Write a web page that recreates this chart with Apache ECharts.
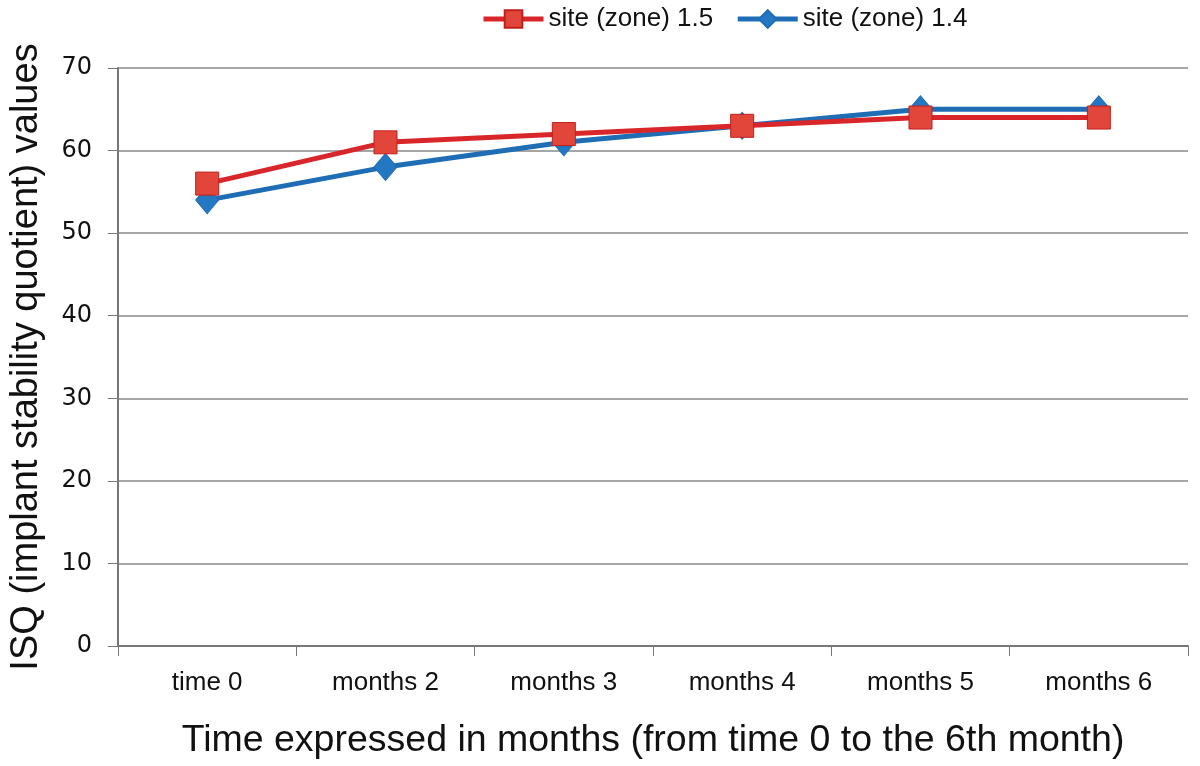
<!DOCTYPE html>
<html><head><meta charset="utf-8">
<script src="https://cdn.jsdelivr.net/npm/echarts@6/dist/echarts.min.js"></script>
<style>html,body{margin:0;padding:0;background:#fff}#c{width:1200px;height:766px}</style>
</head><body><div id="c"></div>
<script>
const categories = ['time 0', 'months 2', 'months 3', 'months 4', 'months 5', 'months 6'];
const site15 = [56, 61, 62, 63, 64, 64];
const site14 = [54, 58, 61, 63, 65, 65];
const seriesNames = ['site (zone) 1.5', 'site (zone) 1.4'];
const yTicks = { min: 0, max: 70, interval: 10 };

const chart = echarts.init(document.getElementById('c'), null, { renderer: 'canvas' });
chart.setOption({
  animation: false,
  backgroundColor: '#fff',
  legend: {
    top: 1, left: 476, itemWidth: 60, itemHeight: 22, itemGap: 22,
    textStyle: { fontFamily: 'Liberation Sans, Arial', fontSize: 26, color: '#111' },
    data: [
      { name: seriesNames[0], lineStyle: { width: 5 } },
      { name: seriesNames[1], lineStyle: { width: 5 } }
    ]
  },
  grid: { left: 118, right: 12, top: 68, bottom: 120, containLabel: false },
  xAxis: {
    type: 'category', data: categories, boundaryGap: true,
    name: 'Time expressed in months (from time 0 to the 6th month)',
    nameLocation: 'middle', nameGap: 76,
    nameTextStyle: { fontFamily: 'Liberation Sans, Arial', fontSize: 37.5, color: '#111' },
    axisLine: { lineStyle: { color: '#777', width: 2 } },
    axisTick: { show: true, length: 10, lineStyle: { color: '#777' } },
    axisLabel: { fontFamily: 'Liberation Sans, Arial', fontSize: 26, color: '#111', margin: 24 }
  },
  yAxis: {
    type: 'value', min: yTicks.min, max: yTicks.max, interval: yTicks.interval,
    name: 'ISQ (implant stability quotient) values',
    nameLocation: 'middle', nameGap: 72, nameRotate: 90,
    nameTextStyle: { fontFamily: 'Liberation Sans, Arial', fontSize: 38, color: '#111' },
    axisLine: { show: true, lineStyle: { color: '#777', width: 2 } },
    axisTick: { show: true, length: 10, lineStyle: { color: '#777' } },
    axisLabel: { fontFamily: 'DejaVu Sans, Verdana', fontSize: 24, color: '#111', margin: 26 },
    splitLine: { lineStyle: { color: '#888', width: 1.5 } }
  },
  series: [
    {
      name: seriesNames[0], type: 'line', data: site15, z: 3,
      symbol: 'rect', symbolSize: 23,
      lineStyle: { color: '#d8262a', width: 5 },
      itemStyle: { color: '#e2463b', borderColor: '#c0201c', borderWidth: 1 }
    },
    {
      name: seriesNames[1], type: 'line', data: site14, z: 2,
      symbol: 'diamond', symbolSize: [23, 27],
      lineStyle: { color: '#1f6db5', width: 5 },
      itemStyle: { color: '#2478c2', borderColor: '#1f6db5', borderWidth: 1 }
    }
  ]
});
</script></body></html>
